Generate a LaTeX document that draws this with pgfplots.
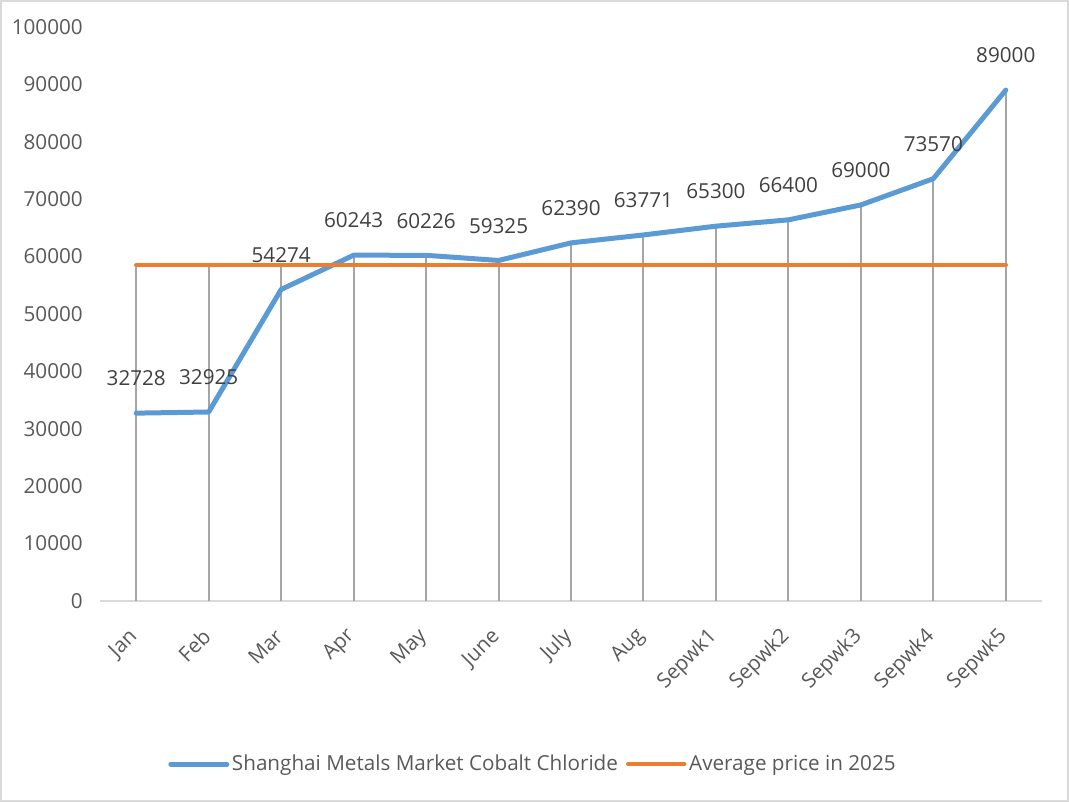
\documentclass[border=0pt]{standalone}
\usepackage{pgfplots}
\pgfplotsset{compat=1.18}
\usepackage{pgfplotstable}
\usepackage{fontspec}
\setmainfont{Open Sans}

\definecolor{cblue}{HTML}{5B9BD5}
\definecolor{corange}{HTML}{ED7D31}
\definecolor{dropgray}{HTML}{A5A5A5}
\definecolor{axgray}{HTML}{D9D9D9}
\definecolor{tickgray}{HTML}{595959}
\definecolor{labgray}{HTML}{404040}

\pgfplotstableread{
x price
0 32728
1 32925
2 54274
3 60243
4 60226
5 59325
6 62390
7 63771
8 65300
9 66400
10 69000
11 73570
12 89000
}\cobalt

\pgfplotstableread{
x avg
0 58500
1 58500
2 58500
3 58500
4 58500
5 58500
6 58500
7 58500
8 58500
9 58500
10 58500
11 58500
12 58500
}\average

\begin{document}
\begin{tikzpicture}
% 1px of the reference = 0.75pt
\useasboundingbox (-75pt,-150.75pt) rectangle (726.75pt,450.75pt);
\draw[axgray, line width=1pt] (-74.25pt,-150pt) rectangle (726pt,450pt);
\begin{axis}[
    at={(0,0)}, anchor=south west,
    scale only axis,
    width=706.5pt, height=430.5pt,
    xmin=-0.5, xmax=12.5,
    ymin=0, ymax=100000,
    xtick={0,...,12},
    xticklabels={Jan,Feb,Mar,Apr,May,June,July,Aug,Sepwk1,Sepwk2,Sepwk3,Sepwk4,Sepwk5},
    ytick={0,10000,...,100000},
    major tick length=0pt,
    axis x line*=bottom,
    axis y line*=left,
    x axis line style={axgray, line width=1.5pt, -},
    y axis line style={draw=none},
    scaled y ticks=false,
    /pgf/number format/.cd, fixed, precision=0, 1000 sep={}, assume math mode=true,
    /pgfplots/.cd,
    ticklabel style={font=\fontsize{15.5}{18}\selectfont, text=tickgray},
    xticklabel style={xshift=-1.5pt, yshift=-24pt, rotate=45, anchor=east, inner sep=0pt},
    yticklabel style={anchor=east, inner sep=0pt, xshift=-12.75pt},
    legend columns=2,
    legend style={draw=none, fill=none, at={(0.46,-0.284)}, anchor=center,
        font=\fontsize{15.5}{18}\selectfont, text=tickgray,
        /tikz/every even column/.append style={column sep=4pt}},
    legend cell align=left,
    legend image code/.code={\draw[#1, line cap=round] (0pt,0pt) -- (42pt,0pt);},
    clip=false,
]
\addplot[ycomb, dropgray, line width=1.5pt, forget plot] table[x=x, y=avg] {\average};
\addplot[ycomb, dropgray, line width=1.5pt, forget plot] table[x=x, y=price] {\cobalt};
\addplot[cblue, line width=3.75pt, line cap=round, line join=round,
    nodes near coords,
    every node near coord/.append style={font=\fontsize{15.5}{18}\selectfont, text=labgray, anchor=center, yshift=26pt}]
    table[x=x, y=price] {\cobalt};
\addlegendentry{Shanghai Metals Market Cobalt Chloride}
\addplot[corange, line width=3.4pt, line cap=round] table[x=x, y=avg] {\average};
\addlegendentry{Average price in 2025}
\end{axis}
\end{tikzpicture}
\end{document}
